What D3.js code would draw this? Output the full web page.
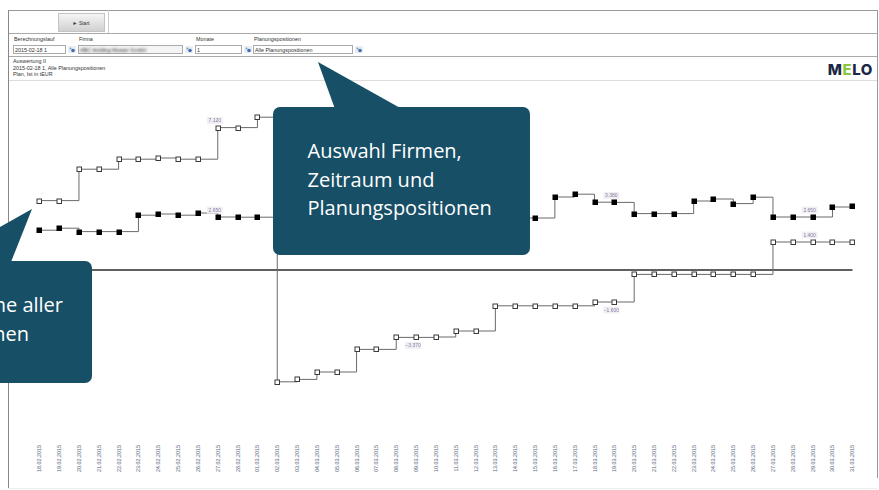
<!DOCTYPE html>
<html>
<head>
<meta charset="utf-8">
<script src="https://cdn.jsdelivr.net/npm/d3@7"></script>
<style>
  body { margin: 0; background: #fff; }
  svg { display: block; }
  .ui { font-family: "Liberation Sans", Arial, sans-serif; fill: #333; }
</style>
</head>
<body>
<div class="canvas"></div>
<script>
// days on the x axis
const dates = [
    "18.02.2015", "19.02.2015", "20.02.2015", "21.02.2015", "22.02.2015", "23.02.2015",
    "24.02.2015", "25.02.2015", "26.02.2015", "27.02.2015", "28.02.2015",
    "01.03.2015", "02.03.2015", "03.03.2015", "04.03.2015", "05.03.2015", "06.03.2015",
    "07.03.2015", "08.03.2015", "09.03.2015", "10.03.2015", "11.03.2015", "12.03.2015",
    "13.03.2015", "14.03.2015", "15.03.2015", "16.03.2015", "17.03.2015", "18.03.2015",
    "19.03.2015", "20.03.2015", "21.03.2015", "22.03.2015", "23.03.2015", "24.03.2015",
    "25.03.2015", "26.03.2015", "27.03.2015", "28.03.2015", "29.03.2015", "30.03.2015",
    "31.03.2015"
];

// open squares (EUR)
const planValues = [
    3470, 3470, 5040, 5040, 5540, 5540, 5600, 5540, 5540, 7120, 7120,
    7640, -5590, -5470, -5100, -5100, -3970, -3970, -3370, -3370, -3350,
    -3050, -3050, -1790, -1790, -1790, -1790, -1790, -1600, -1600, -220,
    -220, -220, -220, -220, -220, -220, 1400, 1400, 1400, 1400, 1400
];

// filled squares (EUR)
const istValues = [
    1990, 2090, 1920, 1920, 1920, 2740, 2800, 2740, 2850, 2650, 2640,
    2640, 2640, 2700, 2580, 2620, 2750, 2800, 2710, 2660, 2720,
    2780, 2690, 2610, 2600, 2600, 3650, 3790, 3390, 3380, 2820,
    2820, 2820, 3450, 3550, 3320, 3640, 2650, 2650, 2650, 3150, 3190
];

// days that carry a value label (the Ist label on 09.03 sits under the callout)
const planLabelDays = ["27.02.2015", "09.03.2015", "19.03.2015", "29.03.2015"];
const istLabelDays = ["27.02.2015", "19.03.2015", "29.03.2015"];

const dims = { width: 879, height: 490 };
const teal = "#174f66";
const fmt = d3.formatLocale({ decimal: ",", thousands: ".", grouping: [3], currency: ["", " €"] }).format(",.0f");

const svg = d3
    .select(".canvas")
    .append("svg")
    .attr("width", dims.width)
    .attr("height", dims.height);

const defs = svg.append("defs");
defs.append("filter").attr("id", "blur")
    .append("feGaussianBlur").attr("stdDeviation", 0.75);
defs.append("filter").attr("id", "blur2")
    .append("feGaussianBlur").attr("stdDeviation", 1.1);
const grad = defs.append("linearGradient").attr("id", "btn")
    .attr("x1", 0).attr("y1", 0).attr("x2", 0).attr("y2", 1);
grad.append("stop").attr("offset", "0%").attr("stop-color", "#f6f6f6");
grad.append("stop").attr("offset", "100%").attr("stop-color", "#cfcfcf");

// ---- frame / header ----
const frame = svg.append("g");
frame.append("line").attr("x1", 8).attr("x2", 878).attr("y1", 10.5).attr("y2", 10.5)
    .attr("stroke", "#999");
frame.append("line").attr("x1", 8).attr("x2", 878).attr("y1", 33.5).attr("y2", 33.5)
    .attr("stroke", "#aaa");
frame.append("line").attr("x1", 8).attr("x2", 878).attr("y1", 56.5).attr("y2", 56.5)
    .attr("stroke", "#aaa");
frame.append("line").attr("x1", 8).attr("x2", 878).attr("y1", 80.5).attr("y2", 80.5)
    .attr("stroke", "#ddd");
frame.append("line").attr("x1", 8.5).attr("x2", 8.5).attr("y1", 10).attr("y2", 488)
    .attr("stroke", "#888");
frame.append("line").attr("x1", 877.5).attr("x2", 877.5).attr("y1", 10).attr("y2", 478)
    .attr("stroke", "#999");
frame.append("line").attr("x1", 108.5).attr("x2", 108.5).attr("y1", 10).attr("y2", 33)
    .attr("stroke", "#ccc");
frame.append("line").attr("x1", 8).attr("x2", 878).attr("y1", 488.5).attr("y2", 488.5)
    .attr("stroke", "#eee");

// start button
frame.append("rect").attr("x", 58.5).attr("y", 13.5).attr("width", 46).attr("height", 18)
    .attr("fill", "url(#btn)").attr("stroke", "#c4c4c4");
frame.append("text").attr("class", "ui").attr("x", 81).attr("y", 24.5)
    .attr("text-anchor", "middle").attr("font-size", 5).text("► Start");

// filter fields
const fields = [
    { label: "Berechnungslauf", x: 13, w: 52, value: "2015-02-18 1" },
    { label: "Firma", x: 78, w: 104, value: "ABC Holding Muster GmbH", blurred: true },
    { label: "Monate", x: 195, w: 46, value: "1" },
    { label: "Planungspositionen", x: 253, w: 99, value: "Alle Planungspositionen" }
];
fields.forEach((f) => {
    frame.append("text").attr("class", "ui").attr("x", f.x + 1).attr("y", 41)
        .attr("font-size", 5.4).text(f.label);
    frame.append("rect").attr("x", f.x + 0.5).attr("y", 45.5).attr("width", f.w).attr("height", 8)
        .attr("fill", f.blurred ? "#f4f4f4" : "#fff").attr("stroke", "#aaa");
    frame.append("text").attr("class", "ui").attr("x", f.x + 2).attr("y", 51.8)
        .attr("font-size", 5.4)
        .attr("fill", f.blurred ? "#b3aac2" : "#333")
        .attr("filter", f.blurred ? "url(#blur2)" : null)
        .text(f.value);
    const ix = f.x + f.w + 3;
    frame.append("rect").attr("x", ix).attr("y", 46).attr("width", 8).attr("height", 7)
        .attr("fill", "#e8eef2");
    frame.append("circle").attr("cx", ix + 5).attr("cy", 50.5).attr("r", 1.8).attr("fill", "#3f6fb0");
    frame.append("circle").attr("cx", ix + 2.5).attr("cy", 48.5).attr("r", 1).attr("fill", "#7a9cc8");
});

// report caption
["Auswertung II", "2015-02-18 1, Alle Planungspositionen", "Plan, Ist in tEUR"].forEach((t, i) => {
    frame.append("text").attr("class", "ui").attr("x", 13).attr("y", 63 + i * 6.6)
        .attr("font-size", 5.4).text(t);
});

// logo
const logo = frame.append("text").attr("x", 873).attr("y", 74.5).attr("text-anchor", "end")
    .attr("font-family", "Inter, 'DejaVu Sans', sans-serif").attr("font-weight", 800)
    .attr("font-size", 15).attr("letter-spacing", 0.6).attr("fill", "#1b2744");
logo.append("tspan").text("M");
logo.append("tspan").attr("fill", "#8cc63f").text("E");
logo.append("tspan").text("LO");

// ---- chart ----
const x = d3.scalePoint().domain(dates).range([39.3, 852.3]);
const y = d3.scaleLinear().domain([-6000, 8000]).range([390, 110]);

const chart = svg.append("g");

chart.append("line")
    .attr("x1", 8).attr("x2", 852.5)
    .attr("y1", y(0)).attr("y2", y(0))
    .attr("stroke", "#2b2b2b").attr("stroke-width", 1.5);

const series = [
    { name: "Plan", values: planValues, fill: "#fff", labelDays: planLabelDays },
    { name: "Ist", values: istValues, fill: "#000", labelDays: istLabelDays }
];

const lineGen = d3.line()
    .x((d) => x(d.date))
    .y((d) => y(d.value))
    .curve(d3.curveStepAfter);

series.forEach((s) => {
    const pts = dates.map((d, i) => ({ date: d, value: s.values[i] }));
    chart.append("path")
        .attr("d", lineGen(pts))
        .attr("fill", "none")
        .attr("stroke", "#6a6a6a")
        .attr("stroke-width", 1);

    chart.selectAll(null)
        .data(pts)
        .enter()
        .append("rect")
        .attr("x", (d) => Math.round(x(d.date)) - 2)
        .attr("y", (d) => Math.round(y(d.value)) - 2)
        .attr("width", 4.5)
        .attr("height", 4.5)
        .attr("fill", s.fill)
        .attr("stroke", s.fill === "#000" ? "#000" : "#3a3a3a")
        .attr("stroke-width", 1);

    const labels = chart.selectAll(null)
        .data(pts.filter((d) => s.labelDays.includes(d.date)))
        .enter()
        .append("g")
        .attr("transform", (d) =>
            `translate(${x(d.date) - 3},${y(d.value) + (d.value < 0 ? 8 : -7)})`)
        .attr("filter", "url(#blur)");
    labels.append("rect")
        .attr("x", -8).attr("y", -3.5).attr("width", 16).attr("height", 7)
        .attr("fill", "#f1eff4");
    labels.append("text")
        .attr("text-anchor", "middle").attr("dy", "0.35em")
        .attr("font-family", "'Liberation Sans', Arial, sans-serif")
        .attr("font-size", 5)
        .attr("fill", "#8a80a0")
        .text((d) => fmt(d.value));
});

// rotated date labels
chart.selectAll(null)
    .data(dates)
    .enter()
    .append("text")
    .attr("transform", (d) => `translate(${x(d) + 2},445) rotate(-90)`)
    .attr("text-anchor", "end")
    .attr("font-family", "'Liberation Sans', Arial, sans-serif")
    .attr("font-size", 5.4)
    .attr("fill", "#56647a")
    .text((d) => d);

// ---- callouts ----
const callouts = svg.append("g");

callouts.append("path")
    .attr("d", "M318,62 L335,109 L402,109 Z")
    .attr("fill", teal);
callouts.append("rect")
    .attr("x", 273).attr("y", 107).attr("width", 257).attr("height", 148)
    .attr("rx", 7).attr("fill", teal);
["Auswahl Firmen,", "Zeitraum und", "Planungspositionen"].forEach((t, i) => {
    callouts.append("text")
        .attr("x", 307.5).attr("y", 158 + i * 28.7)
        .attr("font-family", "'Open Sans', 'Noto Sans', sans-serif")
        .attr("font-size", 20)
        .attr("fill", "#fff")
        .text(t);
});

callouts.append("path")
    .attr("d", "M32,209 L11,262 L-62,262 Z")
    .attr("fill", teal);
callouts.append("rect")
    .attr("x", -20).attr("y", 261).attr("width", 112).attr("height", 122)
    .attr("rx", 7).attr("fill", teal);
[["Summe aller", 63, 311.7], ["Positionen", 29, 340.7]].forEach(([t, tx, ty]) => {
    callouts.append("text")
        .attr("x", tx).attr("y", ty)
        .attr("text-anchor", "end")
        .attr("font-family", "'Open Sans', 'Noto Sans', sans-serif")
        .attr("font-size", 20)
        .attr("fill", "#fff")
        .text(t);
});
</script>
</body>
</html>
